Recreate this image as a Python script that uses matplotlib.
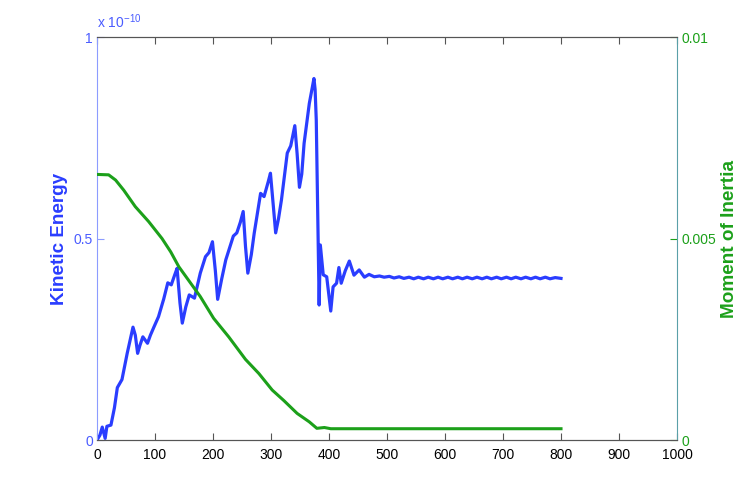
import numpy as np
import matplotlib
matplotlib.use("Agg")
import matplotlib.pyplot as plt

plt.rcParams['font.family'] = ['Liberation Sans', 'DejaVu Sans']
plt.rcParams['mathtext.fontset'] = 'custom'
plt.rcParams['mathtext.rm'] = 'Liberation Sans'
plt.rcParams['mathtext.it'] = 'Liberation Sans'

# kinetic energy, in units of 1e-10
ke_x = [0, 5, 9, 14, 17, 24, 30, 35, 43, 52, 62, 66, 70, 74, 79, 87, 92, 98, 106,
        115, 122, 128, 134, 138, 143, 147, 153, 159, 168, 178, 187, 193, 199, 204,
        208, 215, 222, 235, 241, 247, 252, 256, 260, 266, 271, 282, 288, 295, 299,
        304, 308, 313, 318, 328, 334, 341, 345, 349, 353, 357, 366, 374, 376, 378,
        383, 385, 390, 396, 403, 407, 413, 417, 421, 428, 435, 443, 452, 461, 469, 478,
        487, 495, 504, 512, 521, 529, 538, 546, 554, 563, 571, 580, 588, 596, 605,
        613, 622, 630, 638, 647, 655, 664, 672, 680, 689, 697, 706, 714, 722, 731,
        739, 748, 756, 764, 773, 781, 790, 800]
ke_e10 = [0.0, 0.012, 0.032, 0.004, 0.034, 0.037, 0.08, 0.13, 0.15, 0.215, 0.28,
          0.26, 0.215, 0.235, 0.256, 0.24, 0.26, 0.28, 0.306, 0.35, 0.39, 0.385,
          0.41, 0.426, 0.34, 0.29, 0.33, 0.36, 0.352, 0.414, 0.455, 0.465, 0.492,
          0.42, 0.349, 0.40, 0.447, 0.506, 0.514, 0.54, 0.567, 0.48, 0.414, 0.46,
          0.513, 0.612, 0.604, 0.64, 0.662, 0.58, 0.514, 0.55, 0.596, 0.712, 0.73,
          0.78, 0.71, 0.627, 0.66, 0.736, 0.835, 0.897, 0.87, 0.794, 0.335, 0.484,
          0.41, 0.405, 0.32, 0.38, 0.389, 0.428, 0.389, 0.42, 0.444, 0.409, 0.422,
          0.404, 0.411, 0.405,
          0.407, 0.404, 0.406, 0.402, 0.405, 0.401, 0.404, 0.400, 0.404, 0.400,
          0.404, 0.400, 0.404, 0.400, 0.404, 0.400, 0.404, 0.400, 0.404, 0.400,
          0.404, 0.400, 0.404, 0.400, 0.404, 0.400, 0.404, 0.400, 0.404, 0.400,
          0.404, 0.400, 0.404, 0.400, 0.404, 0.400, 0.403, 0.401]

# moment of inertia
mi_x = [0, 20, 32, 46, 66, 89, 112, 127, 141, 161, 178, 201, 227, 256, 279, 302,
        322, 345, 366, 379, 392, 403, 420, 800]
mi_y = [0.00659, 0.00658, 0.00645, 0.0062, 0.00579, 0.00542, 0.005, 0.00467,
        0.0043, 0.0039, 0.00356, 0.00302, 0.00256, 0.002, 0.00165, 0.00124,
        0.00098, 0.00066, 0.00045, 0.00029, 0.00031, 0.00028, 0.00028, 0.00028]

x_ticks = [0, 100, 200, 300, 400, 500, 600, 700, 800, 900, 1000]

BLUE = '#2a3dff'
GREEN = '#1ca01a'

fig = plt.figure(figsize=(7.47, 4.96), dpi=100)
ax1 = fig.add_axes([0.1299, 0.1129, 0.7764, 0.8125])
ax2 = ax1.twinx()

ax1.plot(ke_x, ke_e10, color=BLUE, lw=2.3, solid_joinstyle='round')
ax2.plot(mi_x, mi_y, color=GREEN, lw=2.2, solid_joinstyle='round')

ax1.set_xlim(0, 1000)
ax1.set_ylim(0, 1)
ax2.set_ylim(0, 0.01)
ax1.set_xticks(x_ticks)
ax1.set_xticklabels([str(t) for t in x_ticks], fontsize=10)
ax1.set_yticks([0, 0.5, 1])
ax1.set_yticklabels(['0', '0.5', '1'], fontsize=10, color='#4a5cff')
ax2.set_yticks([0, 0.005, 0.01])
ax2.set_yticklabels(['0', '0.005', '0.01'], fontsize=10, color=GREEN)

ax1.tick_params(axis='x', direction='in', length=5, top=True, colors='#555555',
                labelcolor='black', pad=6)
ax1.tick_params(axis='y', direction='in', length=5, colors='#8c9cff',
                labelcolor='#4a5cff', pad=3)
ax2.tick_params(axis='y', direction='in', length=5, colors=GREEN, pad=3)

for ax in (ax1, ax2):
    ax.spines['top'].set_color('#555555')
    ax.spines['bottom'].set_color('#555555')
ax1.spines['left'].set_color('#8c9cff')
ax1.spines['right'].set_visible(False)
ax2.spines['left'].set_visible(False)
ax2.spines['right'].set_color('#5aa0a8')

ax1.set_ylabel('Kinetic Energy', color=BLUE, fontsize=13.6, fontweight='bold', labelpad=4)
ax2.set_ylabel('Moment of Inertia', color=GREEN, fontsize=13.7, fontweight='bold', labelpad=4)

ax1.text(0.0, 1.015, r'x 10$^{-10}$', transform=ax1.transAxes, color='#4a5cff',
         fontsize=10, ha='left', va='bottom')

fig.savefig('out.png', dpi=100)
plt.close(fig)
